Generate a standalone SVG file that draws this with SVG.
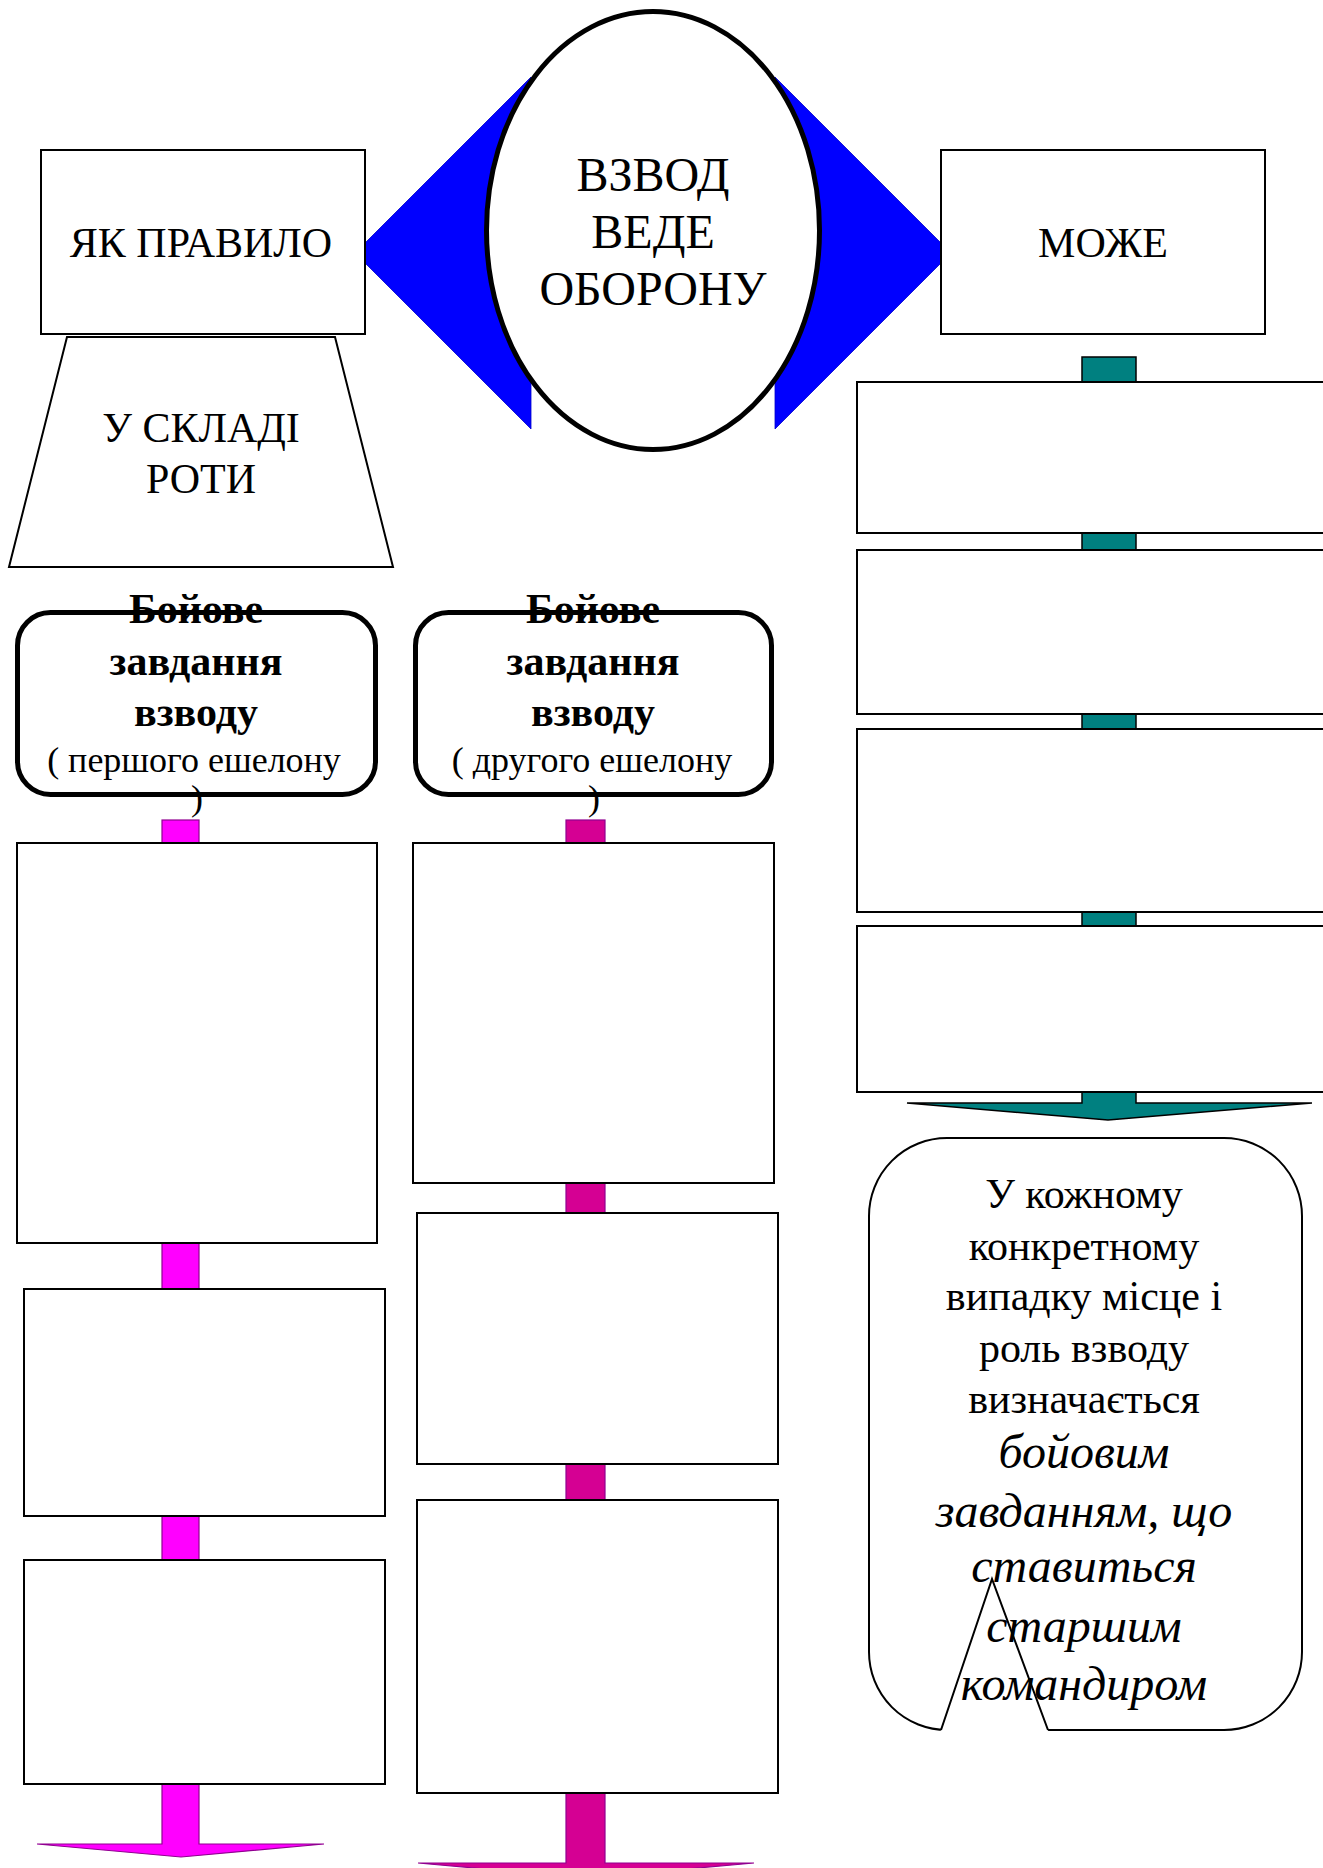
<svg xmlns="http://www.w3.org/2000/svg" width="1323" height="1868" viewBox="0 0 1323 1868">
<style>
text{font-family:"Liberation Serif","Times New Roman",serif;fill:#000;text-anchor:middle}
.box{fill:#fff;stroke:#000;stroke-width:2}
.thick{fill:#fff;stroke:#000;stroke-width:5}
.blue{fill:#0000ff;stroke:#0000cc;stroke-width:0.8}
.teal{fill:#008080;stroke:#000;stroke-width:1.5}
.mag{fill:#ff00ff;stroke:#900090;stroke-width:1.2}
.pink{fill:#d50093;stroke:#900090;stroke-width:1.2}
.t42{font-size:42px}
.t48{font-size:48px}
.b42{font-size:42px;font-weight:bold}
.t36{font-size:36px}
.i48{font-size:48px;font-style:italic}
</style>
<rect width="1323" height="1868" fill="#fff"/>
<g id="connectors">
<polygon class="blue" points="365,243 531,77 531,429 365,263"/>
<polygon class="blue" points="941,243 775,77 775,429 941,263"/>
<rect class="teal" x="1082" y="357" width="54" height="25"/>
<rect class="teal" x="1082" y="533" width="54" height="17"/>
<rect class="teal" x="1082" y="714" width="54" height="15"/>
<rect class="teal" x="1082" y="912" width="54" height="14"/>
<path class="teal" d="M1082,1092 L1136,1092 L1136,1103 L1312,1103 L1108,1120 L907,1103 L1082,1103 Z"/>
<rect class="mag" x="162" y="820" width="37" height="23"/>
<rect class="mag" x="162" y="1243" width="37" height="46"/>
<rect class="mag" x="162" y="1516" width="37" height="44"/>
<path class="mag" d="M162,1784 L199,1784 L199,1844 L324,1844 L181,1857 L37,1844 L162,1844 Z"/>
<rect class="pink" x="566" y="820" width="39" height="23"/>
<rect class="pink" x="566" y="1183" width="39" height="30"/>
<rect class="pink" x="566" y="1464" width="39" height="36"/>
<path class="pink" d="M566,1793 L605,1793 L605,1863 L754,1863 L586,1878 L418,1863 L566,1863 Z"/>
</g>
<g id="node-centre">
<ellipse class="thick" cx="653" cy="230.5" rx="166.5" ry="219"/>
<text class="t48" x="653" y="191">ВЗВОД</text>
<text class="t48" x="653" y="248">ВЕДЕ</text>
<text class="t48" x="653" y="305">ОБОРОНУ</text>
</g>
<g id="node-yak-pravylo">
<rect class="box" x="41" y="150" width="324" height="184"/>
<text class="t42" x="201" y="257">ЯК ПРАВИЛО</text>
</g>
<g id="node-mozhe">
<rect class="box" x="941" y="150" width="324" height="184"/>
<text class="t42" x="1103" y="257">МОЖЕ</text>
</g>
<g id="node-u-skladi-roty">
<polygon class="box" points="67,337 335,337 393,567 9,567"/>
<text class="t42" x="201" y="442">У СКЛАДІ</text>
<text class="t42" x="201" y="493">РОТИ</text>
</g>
<g id="node-first-echelon">
<rect class="thick" x="17.5" y="612.5" width="358" height="182" rx="33" ry="33"/>
<text class="b42" x="196" y="623">Бойове</text>
<text class="b42" x="196" y="675">завдання</text>
<text class="b42" x="196" y="726">взводу</text>
<text class="t36" x="194" y="772">( першого ешелону</text>
<text class="t36" x="197" y="810">)</text>
</g>
<g id="node-second-echelon">
<rect class="thick" x="415.5" y="612.5" width="356" height="182" rx="33" ry="33"/>
<text class="b42" x="593" y="623">Бойове</text>
<text class="b42" x="593" y="675">завдання</text>
<text class="b42" x="593" y="726">взводу</text>
<text class="t36" x="592" y="772">( другого ешелону</text>
<text class="t36" x="594" y="810">)</text>
</g>
<g id="node-l1"><rect class="box" x="17" y="843" width="360" height="400"/></g>
<g id="node-l2"><rect class="box" x="24" y="1289" width="361" height="227"/></g>
<g id="node-l3"><rect class="box" x="24" y="1560" width="361" height="224"/></g>
<g id="node-m1"><rect class="box" x="413" y="843" width="361" height="340"/></g>
<g id="node-m2"><rect class="box" x="417" y="1213" width="361" height="251"/></g>
<g id="node-m3"><rect class="box" x="417" y="1500" width="361" height="293"/></g>
<g id="node-r1"><rect class="box" x="857" y="382" width="480" height="151"/></g>
<g id="node-r2"><rect class="box" x="857" y="550" width="480" height="164"/></g>
<g id="node-r3"><rect class="box" x="857" y="729" width="480" height="183"/></g>
<g id="node-r4"><rect class="box" x="857" y="926" width="480" height="166"/></g>
<g id="node-note">
<rect class="box" x="869" y="1138" width="433" height="592" rx="78" ry="78"/>
<polygon points="940,1733 992,1579 1049,1733" fill="#fff" stroke="none"/>
<polyline points="941,1730 992,1579 1048,1730" fill="none" stroke="#000" stroke-width="2"/>
<text class="t42" x="1084" y="1208">У кожному</text>
<text class="t42" x="1084" y="1260">конкретному</text>
<text class="t42" x="1084" y="1310">випадку місце і</text>
<text class="t42" x="1084" y="1362">роль взводу</text>
<text class="t42" x="1084" y="1413">визначається</text>
<text class="i48" x="1084" y="1468">бойовим</text>
<text class="i48" x="1084" y="1527">завданням, що</text>
<text class="i48" x="1084" y="1582">ставиться</text>
<text class="i48" x="1084" y="1642">старшим</text>
<text class="i48" x="1084" y="1700">командиром</text>
</g>
</svg>
